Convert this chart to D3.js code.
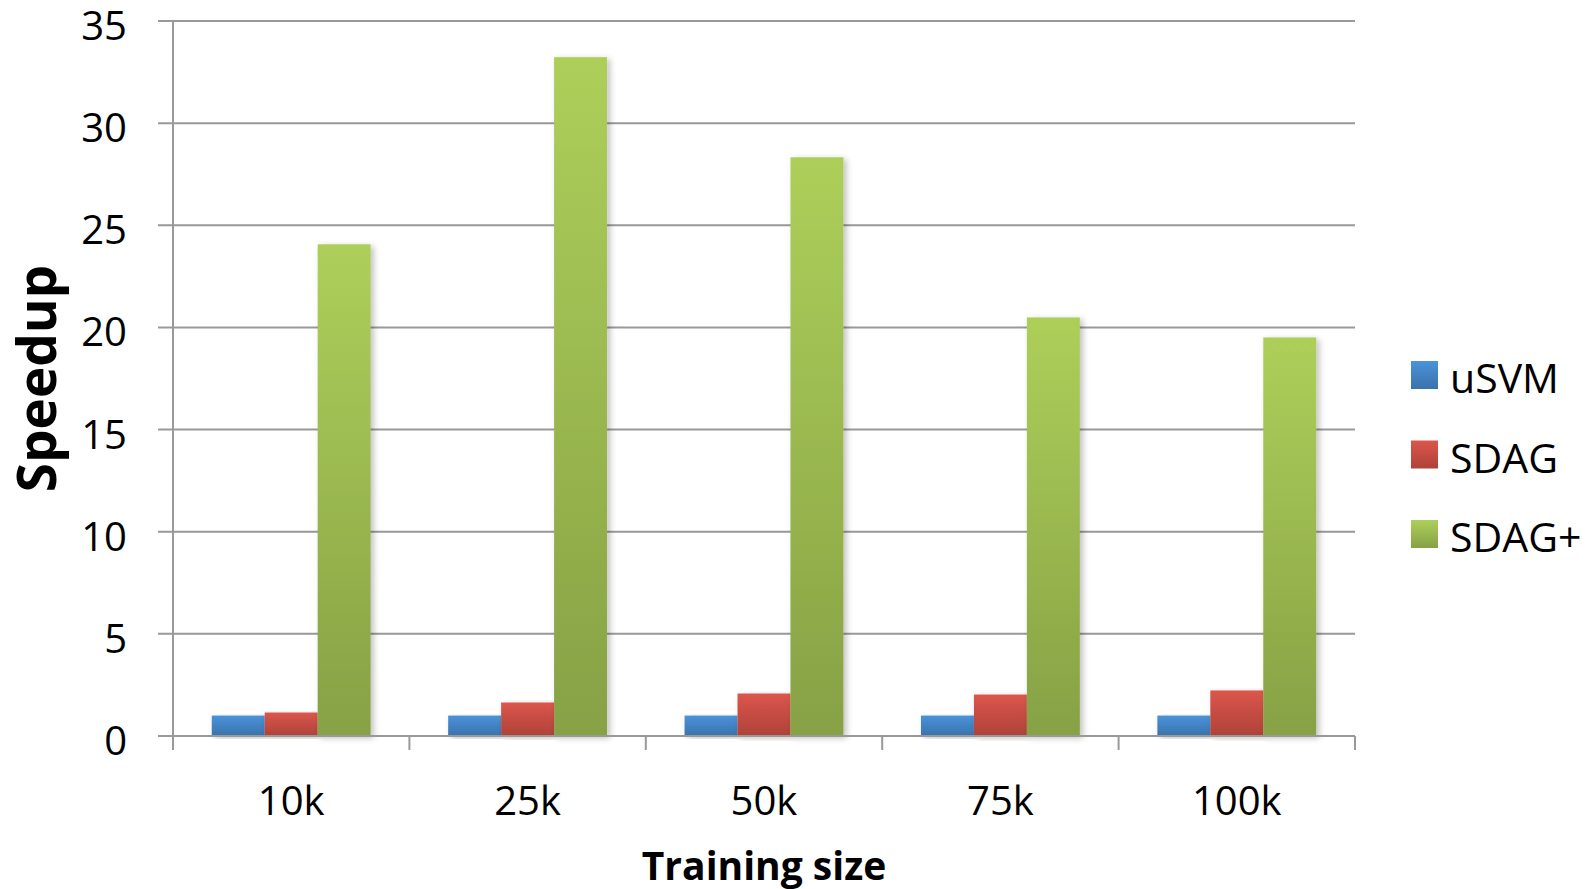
<!DOCTYPE html>
<html>
<head>
<meta charset="utf-8">
<script src="https://cdn.jsdelivr.net/npm/d3@7"></script>
<style>
  body { margin: 0; background: #fff; }
  text { font-family: "Open Sans", sans-serif; fill: #000; }
</style>
</head>
<body>
<script>
// data
var categories = ["10k", "25k", "50k", "75k", "100k"];
var seriesNames = ["uSVM", "SDAG", "SDAG+"];
var usvm = [1, 1, 1, 1, 1];
var sdag = [1.15, 1.64, 2.08, 2.03, 2.23];
var sdagPlus = [24.07, 33.23, 28.33, 20.49, 19.51];
var yTicks = [0, 5, 10, 15, 20, 25, 30, 35];

var series = [usvm, sdag, sdagPlus];
var colors = [
  {top: "#4b93da", bottom: "#3a72aa"},
  {top: "#dc564c", bottom: "#ae4238"},
  {top: "#adcf5a", bottom: "#87a145"}
];

var W = 1593, H = 889;
var margin = {top: 21, right: 238, bottom: 153, left: 173},
    width = W - margin.left - margin.right,
    height = H - margin.top - margin.bottom;

var svg = d3.select("body").append("svg")
    .attr("width", W)
    .attr("height", H);

// gradients + soft shadow
var defs = svg.append("defs");
colors.forEach(function(c, i) {
  var g = defs.append("linearGradient")
      .attr("id", "grad" + i)
      .attr("x1", 0).attr("y1", 0).attr("x2", 0).attr("y2", 1);
  g.append("stop").attr("offset", "0%").attr("stop-color", c.top);
  g.append("stop").attr("offset", "100%").attr("stop-color", c.bottom);
});
defs.append("filter").attr("id", "shadow")
    .attr("x", "-20%").attr("y", "-5%").attr("width", "150%").attr("height", "115%")
  .append("feDropShadow")
    .attr("dx", 3).attr("dy", 2).attr("stdDeviation", 3)
    .attr("flood-color", "#000").attr("flood-opacity", 0.25);

var g = svg.append("g")
    .attr("transform", "translate(" + margin.left + "," + margin.top + ")");

var x0 = d3.scaleBand()
    .domain(categories)
    .range([0, width])
    .paddingInner(0.328)
    .paddingOuter(0.164);

var x1 = d3.scaleBand()
    .domain(d3.range(series.length))
    .range([0, x0.bandwidth()]);

var y = d3.scaleLinear()
    .domain([0, 35])
    .range([height, 0]);

// grid lines
g.selectAll(".grid")
  .data(yTicks)
  .enter().append("line")
    .attr("x1", -15).attr("x2", width)
    .attr("y1", function(d) { return y(d); })
    .attr("y2", function(d) { return y(d); })
    .attr("stroke", "#999")
    .attr("stroke-width", 2);

// y axis line
g.append("line")
    .attr("x1", 0).attr("x2", 0)
    .attr("y1", 0).attr("y2", height + 14)
    .attr("stroke", "#999").attr("stroke-width", 2);

// x axis category ticks
var tickPos = d3.range(categories.length + 1).map(function(i) {
  return i * width / categories.length;
});
g.selectAll(".xtick")
  .data(tickPos)
  .enter().append("line")
    .attr("x1", function(d) { return d; })
    .attr("x2", function(d) { return d; })
    .attr("y1", height).attr("y2", height + 14)
    .attr("stroke", "#999").attr("stroke-width", 2);

// y tick labels
g.selectAll(".ylab")
  .data(yTicks)
  .enter().append("text")
    .attr("x", -46)
    .attr("y", function(d) { return y(d) + 19; })
    .attr("text-anchor", "end")
    .style("font-size", "40px")
    .text(function(d) { return d; });

// bars
var cat = g.selectAll(".cat")
  .data(categories)
  .enter().append("g")
    .attr("transform", function(d) { return "translate(" + x0(d) + ",0)"; });

cat.selectAll("rect")
  .data(function(d, ci) { return series.map(function(s, si) { return {si: si, v: s[ci]}; }); })
  .enter().append("rect")
    .attr("x", function(d) { return x1(d.si); })
    .attr("width", x1.bandwidth())
    .attr("y", function(d) { return y(d.v); })
    .attr("height", function(d) { return height - y(d.v); })
    .attr("fill", function(d) { return "url(#grad" + d.si + ")"; })
    .attr("filter", "url(#shadow)");

// redraw x axis line over bars' bottom
g.append("line")
    .attr("x1", -15).attr("x2", width)
    .attr("y1", height).attr("y2", height)
    .attr("stroke", "#999").attr("stroke-width", 2);

// x tick labels
g.selectAll(".xlab")
  .data(categories)
  .enter().append("text")
    .attr("x", function(d) { return x0(d) + x0.bandwidth() / 2; })
    .attr("y", height + 79)
    .attr("text-anchor", "middle")
    .style("font-size", "40px")
    .text(function(d) { return d; });

// axis titles
svg.append("text")
    .attr("x", margin.left + width / 2)
    .attr("y", 880)
    .attr("text-anchor", "middle")
    .style("font-size", "39px")
    .style("font-weight", "bold")
    .text("Training size");

svg.append("text")
    .attr("transform", "translate(56," + (margin.top + height / 2) + ") rotate(-90)")
    .attr("text-anchor", "middle")
    .style("font-size", "53px")
    .style("font-weight", "bold")
    .text("Speedup");

// legend
var legend = svg.selectAll(".legend")
  .data(seriesNames)
  .enter().append("g")
    .attr("transform", function(d, i) { return "translate(1411," + (361 + i * 79.5) + ")"; });

legend.append("rect")
    .attr("width", 27).attr("height", 28)
    .attr("fill", function(d, i) { return "url(#grad" + i + ")"; });

legend.append("text")
    .attr("x", 39)
    .attr("y", 32)
    .style("font-size", "41px")
    .text(function(d) { return d; });
</script>
</body>
</html>
